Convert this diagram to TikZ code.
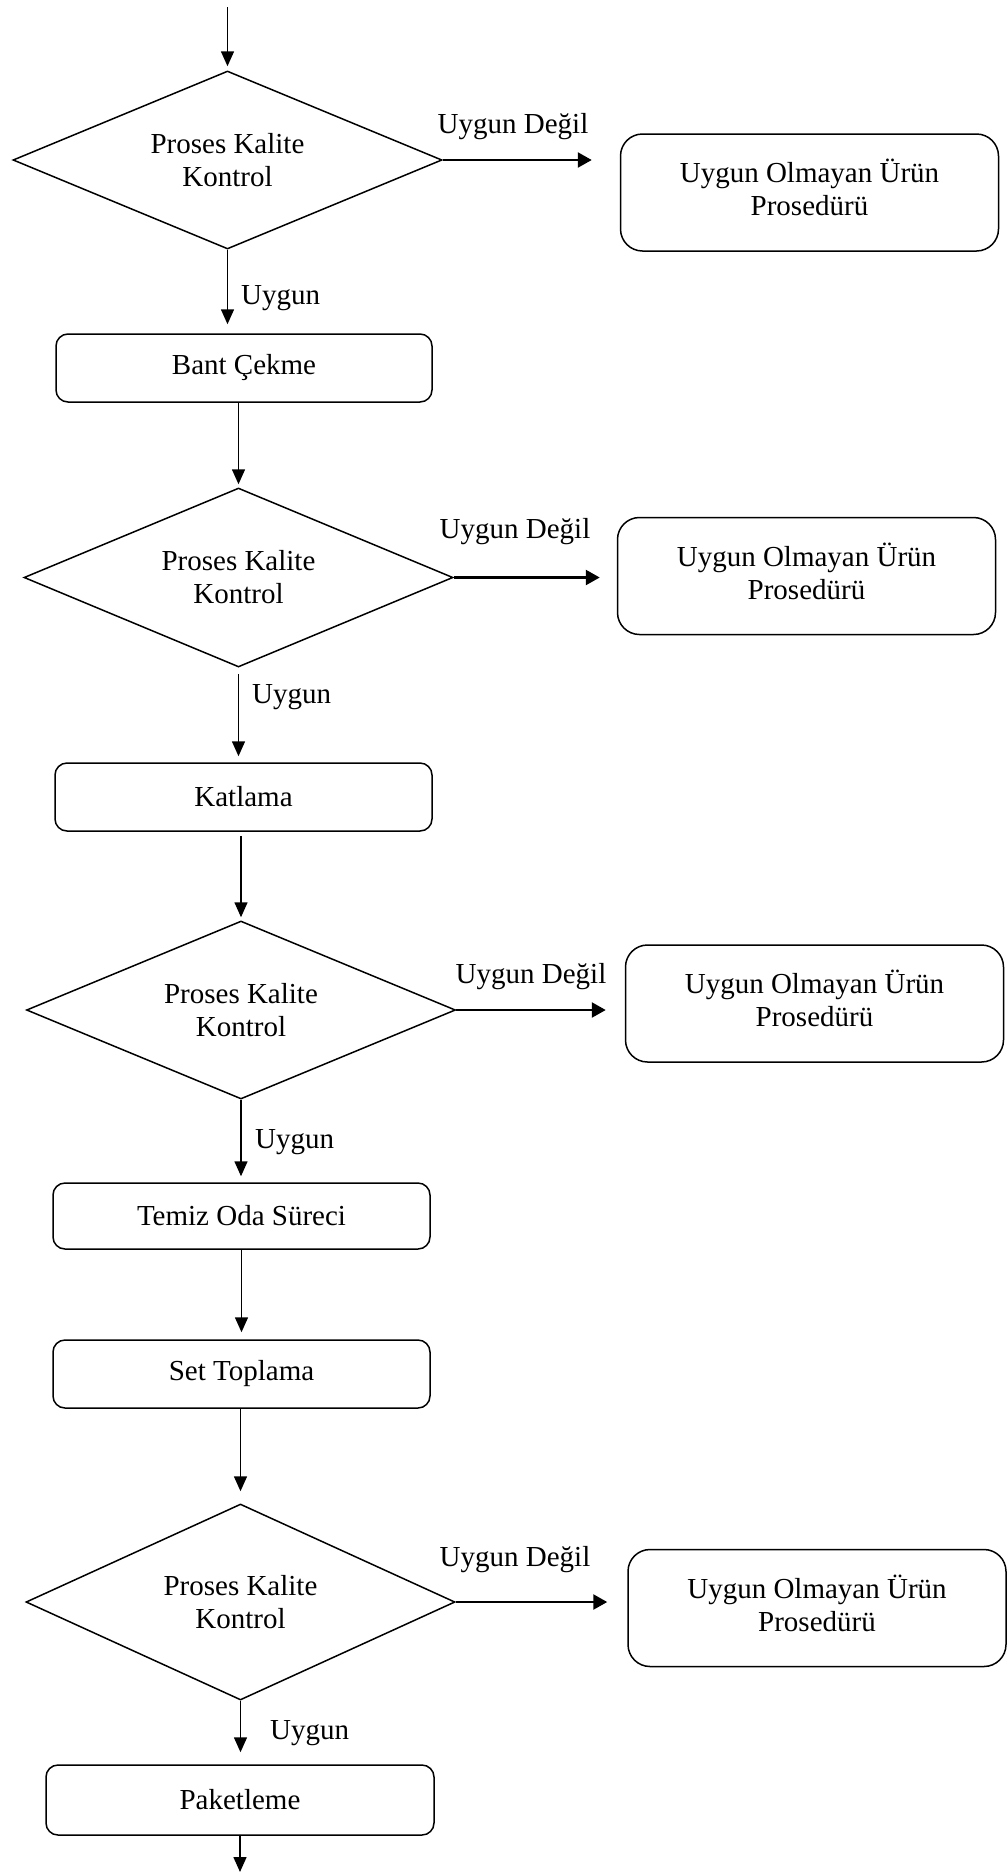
\documentclass[tikz,border=0pt]{standalone}
\usepackage{fontspec}
\setmainfont{Liberation Serif}
\usetikzlibrary{shapes.geometric,arrows.meta}
\begin{document}
\begin{tikzpicture}[x=1pt,y=-1pt,
  every node/.style={font=\fontsize{29}{33}\selectfont},
  dia/.style={draw,line width=1.5pt,shape=diamond,shape aspect=2.41,inner sep=0pt,minimum width=429pt,minimum height=178pt,align=center},
  procbox/.style={draw,line width=1.5pt,rounded corners=12pt,inner sep=0pt,minimum width=377pt,minimum height=68pt,align=center},
  ncbox/.style={draw,line width=1.5pt,rounded corners=22pt,inner sep=0pt,minimum width=378pt,minimum height=117pt,align=center},
  varr/.style={line width=1.5pt,-{Triangle[length=15pt,width=13pt]}},
  harr/.style={line width=2.5pt,-{Triangle[length=14pt,width=15pt]}},
  lbl/.style={inner sep=0pt}
]
\fill[white] (0,0) rectangle (1007,1872);
\useasboundingbox (0,0) rectangle (1007,1872);
\newcommand{\nctext}{\raisebox{6pt}{\begin{tabular}{@{}c@{}}Uygun Olmayan Ürün\\Prosedürü\end{tabular}}}

\coordinate (start) at (227.5,7);
\node[dia] (d1) at (227.5,160) {Proses Kalite\\Kontrol};
\node[ncbox] (r1) at (809.5,192.5) {\nctext};
\node[procbox, minimum width=376pt] (b1) at (244,368) {Bant Çekme};
\node[dia, minimum height=179pt] (d2) at (238.5,577.5) {Proses Kalite\\Kontrol};
\node[ncbox] (r2) at (806.5,576) {\nctext};
\node[procbox] (b2) at (243.5,797) {Katlama};
\node[dia] (d3) at (241,1010) {Proses Kalite\\Kontrol};
\node[ncbox] (r3) at (814.5,1003.5) {\nctext};
\node[procbox, minimum height=66pt] (b3) at (241.5,1216) {Temiz Oda Süreci};
\node[procbox] (b4) at (241.5,1374) {Set Toplama};
\node[dia, shape aspect=2.19, minimum height=196pt] (d4) at (240.5,1602) {Proses Kalite\\Kontrol};
\node[ncbox] (r4) at (817,1608) {\nctext};
\node[procbox, minimum width=388pt, minimum height=70pt] (b5) at (240,1800) {Paketleme};
\coordinate (end) at (240,1872);

\draw[varr, shorten >=4pt] (start) -- (d1.north);
\draw[varr, shorten >=9pt] (d1.south) -- (d1.south |- b1.north);
\draw[varr, shorten >=3pt] (d2.north |- b1.south) -- (d2.north);
\draw[varr, shorten <=6pt, shorten >=6pt] (d2.south) -- (d2.south |- b2.north);
\draw[varr, shorten <=4pt, shorten >=3pt] (d3.north |- b2.south) -- (d3.north);
\draw[varr, shorten >=6pt] (d3.south) -- (d3.south |- b3.north);
\draw[varr, shorten >=7pt] (b3.south) -- (b4.north);
\draw[varr, shorten >=12pt] (d4.north |- b4.south) -- (d4.north);
\draw[varr, shorten >=12pt] (d4.south) -- (d4.south |- b5.north);
\draw[varr] (b5.south) -- (end);

\draw[harr, shorten >=28pt] (d1.east) -- (d1.east -| r1.west);
\draw[harr, shorten >=17pt] (d2.east) -- (d2.east -| r2.west);
\draw[harr, shorten >=19pt] (d3.east) -- (d3.east -| r3.west);
\draw[harr, shorten >=20pt] (d4.east) -- (d4.east -| r4.west);

\node[lbl] (n1) at (513,127) {Uygun Değil};
\node[lbl] (n2) at (515,532) {Uygun Değil};
\node[lbl] (n3) at (531,977) {Uygun Değil};
\node[lbl] (n4) at (515,1560) {Uygun Değil};
\node[lbl, anchor=west] (u1) at (241,298) {Uygun};
\node[lbl, anchor=west] (u2) at (252,697) {Uygun};
\node[lbl, anchor=west] (u3) at (255,1142) {Uygun};
\node[lbl, anchor=west] (u4) at (270,1733) {Uygun};
\end{tikzpicture}
\end{document}
